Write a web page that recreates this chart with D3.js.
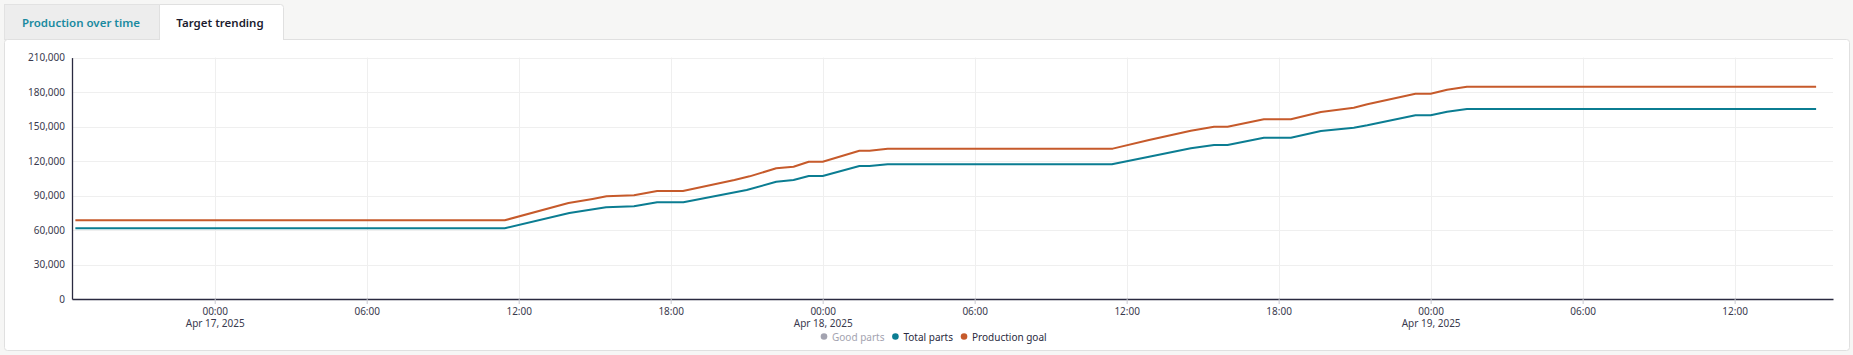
<!DOCTYPE html>
<html>
<head>
<meta charset="utf-8">
<script src="https://cdn.jsdelivr.net/npm/d3@7"></script>
<style>
  html, body { margin: 0; padding: 0; background: #f6f6f5; }
  body { width: 1853px; height: 355px; overflow: hidden; font-family: "Noto Sans", sans-serif; }
  svg { display: block; }
</style>
</head>
<body>
<svg id="chart" width="1853" height="355"></svg>
<script>
// ---- data ----
const tabs = ["Production over time", "Target trending"];
const seriesNames = ["Good parts", "Total parts", "Production goal"];
const totalTimes = ["2025-04-16T18:30","2025-04-17T11:27","2025-04-17T14:00","2025-04-17T15:27","2025-04-17T16:33","2025-04-17T17:28","2025-04-17T18:30","2025-04-17T21:00","2025-04-17T22:10","2025-04-17T22:51","2025-04-17T23:27","2025-04-18T00:00","2025-04-18T01:27","2025-04-18T01:51","2025-04-18T02:34","2025-04-18T11:25","2025-04-18T12:53","2025-04-18T14:32","2025-04-18T15:27","2025-04-18T15:59","2025-04-18T17:25","2025-04-18T18:29","2025-04-18T19:40","2025-04-18T20:58","2025-04-18T21:30","2025-04-18T23:24","2025-04-19T00:00","2025-04-19T00:39","2025-04-19T01:26","2025-04-19T15:13"];
const totalValues = [61500,61500,74800,79800,80600,84100,84100,94800,102000,103500,107000,107000,115700,115700,117200,117200,123800,131100,134000,134000,140300,140300,146100,149000,151100,159800,159800,162900,165300,165300];
const goalTimes = ["2025-04-16T18:30","2025-04-17T11:27","2025-04-17T13:58","2025-04-17T14:55","2025-04-17T15:28","2025-04-17T16:33","2025-04-17T17:28","2025-04-17T18:29","2025-04-17T20:31","2025-04-17T21:07","2025-04-17T22:10","2025-04-17T22:51","2025-04-17T23:27","2025-04-18T00:00","2025-04-18T01:27","2025-04-18T01:51","2025-04-18T02:34","2025-04-18T11:27","2025-04-18T12:53","2025-04-18T14:32","2025-04-18T15:27","2025-04-18T15:59","2025-04-18T17:25","2025-04-18T18:29","2025-04-18T19:40","2025-04-18T20:58","2025-04-18T21:30","2025-04-18T23:24","2025-04-19T00:00","2025-04-19T00:39","2025-04-19T01:26","2025-04-19T15:13"];
const goalValues = [68500,68500,83500,87000,89300,90200,94000,94000,103500,106700,113700,115100,119400,119400,129000,129000,130800,130800,138300,146400,149900,149900,156300,156300,162700,166400,169400,178600,178600,182100,184700,184700];
const yTicks = [0,30000,60000,90000,120000,150000,180000,210000];
const xDomain = ["2025-04-16T18:22","2025-04-19T15:53"];
const colors = { "Good parts": "#a3a3b0", "Total parts": "#0b7d92", "Production goal": "#c65a2b" };

// ---- drawing ----
const svg = d3.select("#chart");
const parse = d3.timeParse("%Y-%m-%dT%H:%M");

// tabs
svg.append("rect").attr("x", 4.5).attr("y", 4.5).attr("width", 155).attr("height", 35)
  .attr("fill", "#ededed").attr("stroke", "#e2e2e2");
// panel
svg.append("rect").attr("x", 4.5).attr("y", 39.5).attr("width", 1845).attr("height", 311)
  .attr("rx", 3).attr("fill", "#ffffff").attr("stroke", "#e0e0e0");
// active tab
svg.append("path").attr("d", "M159.5,40 L159.5,4.5 L280.5,4.5 Q283.5,4.5 283.5,7.5 L283.5,40")
  .attr("fill", "#ffffff").attr("stroke", "#e0e0e0");
svg.append("rect").attr("x", 160).attr("y", 38).attr("width", 123).attr("height", 3).attr("fill", "#ffffff");
svg.append("text").attr("x", 81).attr("y", 22.5).attr("text-anchor", "middle").attr("dominant-baseline", "central")
  .attr("font-size", 11.5).attr("font-weight", 600).attr("fill", "#1a8aa0").text(tabs[0]);
svg.append("text").attr("x", 220).attr("y", 22.5).attr("text-anchor", "middle").attr("dominant-baseline", "central")
  .attr("font-size", 11.5).attr("font-weight", 600).attr("fill", "#1b1b2e").text(tabs[1]);

const x = d3.scaleTime().domain(xDomain.map(parse)).range([72, 1833]);
const y = d3.scaleLinear().domain([0, 210000]).range([299, 57.6]);

const xTickDates = d3.timeHour.every(6).range(parse(xDomain[0]), parse(xDomain[1]));

const g = svg.append("g");
// grid
g.selectAll(".hg").data(yTicks.slice(1)).join("line")
  .attr("x1", 72).attr("x2", 1833).attr("y1", d => Math.round(y(d)) + 0.5).attr("y2", d => Math.round(y(d)) + 0.5)
  .attr("stroke", "#efefef").attr("stroke-width", 1);
g.selectAll(".vg").data(xTickDates).join("line")
  .attr("x1", d => Math.round(x(d)) + 0.5).attr("x2", d => Math.round(x(d)) + 0.5)
  .attr("y1", y(210000)).attr("y2", y(0))
  .attr("stroke", "#efefef").attr("stroke-width", 1);

// y axis
const yAxis = d3.axisLeft(y).tickValues(yTicks).tickSize(0).tickPadding(7).tickFormat(d3.format(","));
const ya = svg.append("g").attr("transform", "translate(72,0)").call(yAxis);
ya.select(".domain").attr("stroke", "#2a2a40").attr("stroke-width", 1.3);
ya.selectAll("text").attr("font-size", 10).attr("fill", "#3a3a4e").attr("font-family", "Noto Sans");

// x axis
const fmtTime = d3.timeFormat("%H:%M");
const fmtDate = d3.timeFormat("%b %-d, %Y");
const xAxis = d3.axisBottom(x).tickValues(xTickDates).tickSize(5).tickSizeOuter(0).tickPadding(4).tickFormat(fmtTime);
const xa = svg.append("g").attr("transform", "translate(0,299)").call(xAxis);
xa.select(".domain").attr("stroke", "#2a2a40").attr("stroke-width", 1.3);
xa.selectAll(".tick line").attr("stroke", "#c8c8d0");
xa.selectAll("text").attr("font-size", 10).attr("fill", "#3a3a4e").attr("font-family", "Noto Sans");
xa.selectAll(".tick").each(function(d) {
  if (d.getHours() === 0) {
    d3.select(this).select("text").append("tspan").attr("x", 0).attr("dy", "1.15em").text(fmtDate(d));
  }
});

// lines
const line = d3.line().x(d => x(d[0])).y(d => y(d[1]));
const totalData = totalTimes.map((t, i) => [parse(t), totalValues[i]]);
const goalData = goalTimes.map((t, i) => [parse(t), goalValues[i]]);
svg.append("path").datum(totalData).attr("d", line).attr("fill", "none")
  .attr("stroke", colors["Total parts"]).attr("stroke-width", 2).attr("stroke-linejoin", "round");
svg.append("path").datum(goalData).attr("d", line).attr("fill", "none")
  .attr("stroke", colors["Production goal"]).attr("stroke-width", 2).attr("stroke-linejoin", "round");

// legend
const legend = svg.append("g").attr("transform", "translate(0,336.5)");
let lx = 824;
seriesNames.forEach((name, i) => {
  legend.append("circle").attr("cx", lx).attr("cy", 0).attr("r", 3.3).attr("fill", colors[name]);
  const t = legend.append("text").attr("x", lx + 8).attr("y", 0).attr("dominant-baseline", "central")
    .attr("font-size", 10).attr("fill", i === 0 ? "#a3a3b0" : "#2a2a40").text(name);
  lx += 8 + t.node().getComputedTextLength() + 11;
});
</script>
</body>
</html>
